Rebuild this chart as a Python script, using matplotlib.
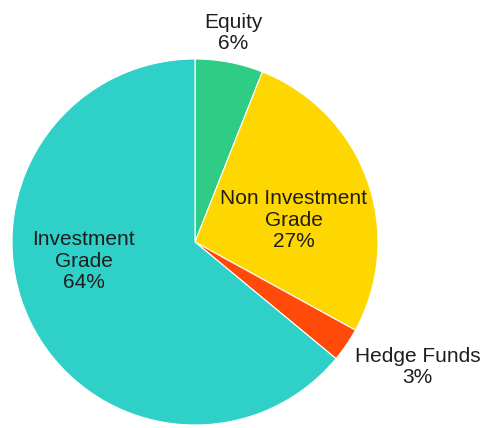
import matplotlib.pyplot as plt

labels = ["Equity", "Non Investment\nGrade", "Hedge Funds", "Investment\nGrade"]
shares = [6, 27, 3, 64]
colors = ["#2ecc85", "#ffd700", "#ff4a0a", "#2ed0c8"]

plt.rcParams['font.family'] = ['Liberation Sans', 'DejaVu Sans']

fig = plt.figure(figsize=(4.88, 4.28), dpi=100)
# square box in pixels: centre (195, 242), radius 183
ax = fig.add_axes([12 / 488, 3 / 428, 366 / 488, 366 / 428])
wedges, _ = ax.pie(shares, colors=colors, startangle=90, counterclock=False,
                   wedgeprops=dict(edgecolor="white", linewidth=0.8))
ax.set_xlim(-1, 1)
ax.set_ylim(-1, 1)
ax.set_aspect("equal")
ax.axis("off")

# label text positions (data units, pie radius = 1)
label_pos = [(0.21, 1.142), (0.538, 0.12), (1.216, -0.683), (-0.609, -0.104)]
for name, val, (x, y) in zip(labels, shares, label_pos):
    ax.text(x, y, f"{name}\n{val}%", ha="center", va="center",
            fontsize=15, color="#1e1e1e", linespacing=1.15, clip_on=False)

fig.savefig("out.png", dpi=100)
